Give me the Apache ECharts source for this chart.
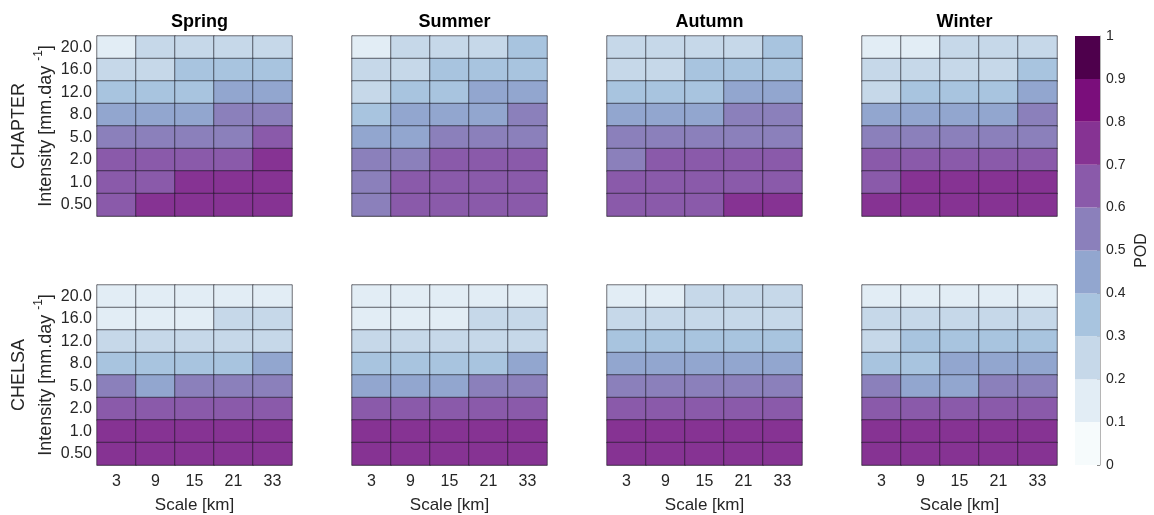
<!DOCTYPE html>
<html>
<head>
<meta charset="utf-8">
<script src="https://cdn.jsdelivr.net/npm/echarts@6/dist/echarts.min.js"></script>
<style>
  html, body { margin: 0; padding: 0; background: #ffffff; }
  #chart { width: 1154px; height: 515px; }
</style>
</head>
<body>
<div id="chart"></div>
<script>
// Categories
const scales = ['3', '9', '15', '21', '33'];
// Intensity thresholds, bottom to top
const intensities = ['0.50', '1.0', '2.0', '5.0', '8.0', '12.0', '16.0', '20.0'];
const seasons = ['Spring', 'Summer', 'Autumn', 'Winter'];
const products = ['CHAPTER', 'CHELSA'];

// POD colour levels (0 to 1 in steps of 0.1)
const levelEdges = [0, 0.1, 0.2, 0.3, 0.4, 0.5, 0.6, 0.7, 0.8, 0.9, 1];
const levelColors = ['#f6fbfc', '#e2edf5', '#c6d8e9', '#a8c4df', '#92a6cf',
                     '#8b80bb', '#8a5aaa', '#863393', '#7a0e7b', '#4e004c'];

// POD values, rows listed from 20.0 (top) down to 0.50 (bottom), columns by scale
const chapterSpring = [
  [0.15, 0.25, 0.25, 0.25, 0.25],
  [0.25, 0.25, 0.35, 0.35, 0.35],
  [0.35, 0.35, 0.35, 0.45, 0.45],
  [0.45, 0.45, 0.45, 0.55, 0.55],
  [0.55, 0.55, 0.55, 0.55, 0.65],
  [0.65, 0.65, 0.65, 0.65, 0.75],
  [0.65, 0.65, 0.75, 0.75, 0.75],
  [0.65, 0.75, 0.75, 0.75, 0.75]
];
const chapterSummer = [
  [0.15, 0.25, 0.25, 0.25, 0.35],
  [0.25, 0.25, 0.35, 0.35, 0.35],
  [0.25, 0.35, 0.35, 0.45, 0.45],
  [0.35, 0.45, 0.45, 0.45, 0.55],
  [0.45, 0.45, 0.55, 0.55, 0.55],
  [0.55, 0.55, 0.65, 0.65, 0.65],
  [0.55, 0.65, 0.65, 0.65, 0.65],
  [0.55, 0.65, 0.65, 0.65, 0.65]
];
const chapterAutumn = [
  [0.25, 0.25, 0.25, 0.25, 0.35],
  [0.25, 0.25, 0.35, 0.35, 0.35],
  [0.35, 0.35, 0.35, 0.45, 0.45],
  [0.45, 0.45, 0.45, 0.55, 0.55],
  [0.55, 0.55, 0.55, 0.55, 0.55],
  [0.55, 0.65, 0.65, 0.65, 0.65],
  [0.65, 0.65, 0.65, 0.65, 0.65],
  [0.65, 0.65, 0.65, 0.75, 0.75]
];
const chapterWinter = [
  [0.15, 0.15, 0.25, 0.25, 0.25],
  [0.25, 0.25, 0.25, 0.25, 0.35],
  [0.25, 0.35, 0.35, 0.35, 0.45],
  [0.45, 0.45, 0.45, 0.45, 0.55],
  [0.55, 0.55, 0.55, 0.55, 0.55],
  [0.65, 0.65, 0.65, 0.65, 0.65],
  [0.65, 0.75, 0.75, 0.75, 0.75],
  [0.75, 0.75, 0.75, 0.75, 0.75]
];
const chelsaSpring = [
  [0.15, 0.15, 0.15, 0.15, 0.15],
  [0.15, 0.15, 0.15, 0.25, 0.25],
  [0.25, 0.25, 0.25, 0.25, 0.25],
  [0.35, 0.35, 0.35, 0.35, 0.45],
  [0.55, 0.45, 0.55, 0.55, 0.55],
  [0.65, 0.65, 0.65, 0.65, 0.65],
  [0.75, 0.75, 0.75, 0.75, 0.75],
  [0.75, 0.75, 0.75, 0.75, 0.75]
];
const chelsaSummer = [
  [0.15, 0.15, 0.15, 0.15, 0.15],
  [0.15, 0.15, 0.15, 0.25, 0.25],
  [0.25, 0.25, 0.25, 0.25, 0.25],
  [0.35, 0.35, 0.35, 0.35, 0.45],
  [0.45, 0.45, 0.45, 0.55, 0.55],
  [0.65, 0.65, 0.65, 0.65, 0.65],
  [0.75, 0.75, 0.75, 0.75, 0.75],
  [0.75, 0.75, 0.75, 0.75, 0.75]
];
const chelsaAutumn = [
  [0.15, 0.15, 0.25, 0.25, 0.25],
  [0.25, 0.25, 0.25, 0.25, 0.25],
  [0.35, 0.35, 0.35, 0.35, 0.35],
  [0.45, 0.45, 0.45, 0.45, 0.45],
  [0.55, 0.55, 0.55, 0.55, 0.55],
  [0.65, 0.65, 0.65, 0.65, 0.65],
  [0.75, 0.75, 0.75, 0.75, 0.75],
  [0.75, 0.75, 0.75, 0.75, 0.75]
];
const chelsaWinter = [
  [0.15, 0.15, 0.15, 0.15, 0.15],
  [0.25, 0.25, 0.25, 0.25, 0.25],
  [0.25, 0.35, 0.35, 0.35, 0.35],
  [0.35, 0.35, 0.45, 0.45, 0.45],
  [0.55, 0.45, 0.45, 0.55, 0.55],
  [0.65, 0.65, 0.65, 0.65, 0.65],
  [0.75, 0.75, 0.75, 0.75, 0.75],
  [0.75, 0.75, 0.75, 0.75, 0.75]
];

const panels = [
  [chapterSpring, chapterSummer, chapterAutumn, chapterWinter],
  [chelsaSpring, chelsaSummer, chelsaAutumn, chelsaWinter]
];

// Layout of the panel grid (pixels)
const panelLefts = [97, 352, 607, 862];
const panelTops = [36, 285];
const panelW = 195;
const panelH = 180;
const textColor = '#262626';
const fontFamily = '"Liberation Sans", Arial, Helvetica, sans-serif';

// Convert a panel's rows (top to bottom) into heatmap triples
function toCells(rows) {
  const out = [];
  const n = rows.length;
  rows.forEach((row, r) => {
    row.forEach((v, c) => {
      out.push([c, n - 1 - r, v]);
    });
  });
  return out;
}

const grids = [], xAxes = [], yAxes = [], series = [], titles = [];

products.forEach((prod, pr) => {
  seasons.forEach((season, sc) => {
    const idx = grids.length;
    grids.push({
      left: panelLefts[sc], top: panelTops[pr],
      width: panelW, height: panelH
    });
    xAxes.push({
      type: 'category', gridIndex: idx, data: scales,
      axisLine: { show: true, lineStyle: { color: '#b5b5b5', width: 1 } },
      axisTick: { show: false },
      axisLabel: { show: pr === 1, color: textColor, fontSize: 16, margin: 9, fontFamily },
      name: pr === 1 ? 'Scale [km]' : '',
      nameLocation: 'middle', nameGap: 32,
      nameTextStyle: { color: textColor, fontSize: 17, fontFamily },
      splitLine: { show: false }
    });
    yAxes.push({
      type: 'category', gridIndex: idx, data: intensities,
      axisLine: { show: true, lineStyle: { color: '#b5b5b5', width: 1 } },
      axisTick: { show: false },
      axisLabel: { show: sc === 0, color: textColor, fontSize: 16, margin: 5, fontFamily },
      name: sc === 0 ? '{a|' + prod + '}\n{a|Intensity [mm.day }{s|-1}{a|]}' : '',
      nameLocation: 'middle', nameRotate: 90, nameGap: 37,
      nameTextStyle: {
        color: textColor, fontFamily,
        rich: {
          a: { fontSize: 18, color: textColor, fontFamily, lineHeight: 27 },
          s: { fontSize: 12, color: textColor, fontFamily, verticalAlign: 'top', lineHeight: 27, padding: [0, 0, 8, 0] }
        }
      },
      splitLine: { show: false }
    });
    series.push({
      type: 'heatmap', xAxisIndex: idx, yAxisIndex: idx,
      data: toCells(panels[pr][sc]),
      itemStyle: { borderColor: 'rgba(20,20,30,0.75)', borderWidth: 0.8 },
      emphasis: { disabled: true },
      progressive: 0
    });
    if (pr === 0) {
      titles.push({
        text: season,
        left: panelLefts[sc] + panelW / 2, top: 8,
        textAlign: 'center',
        textStyle: { fontSize: 18, fontWeight: 'bold', color: '#000000', fontFamily }
      });
    }
  });
});

// Colour bar: one stacked bar per level on a 0..1 value axis
const cbIdx = grids.length;
grids.push({ left: 1075, top: 36, width: 25, height: 429 });
xAxes.push({
  type: 'category', gridIndex: cbIdx, data: ['POD'],
  axisLine: { show: false }, axisTick: { show: false }, axisLabel: { show: false }
});
yAxes.push({
  type: 'value', gridIndex: cbIdx, min: 0, max: 1, interval: 0.1,
  position: 'right',
  axisLine: { show: true, lineStyle: { color: '#b5b5b5' } },
  axisTick: { show: true, inside: true, length: 3, lineStyle: { color: '#8a8a8a' } },
  axisLabel: { color: textColor, fontSize: 14, margin: 6, fontFamily },
  splitLine: { show: false },
  name: 'POD', nameLocation: 'middle', nameRotate: 90, nameGap: 34,
  nameTextStyle: { color: textColor, fontSize: 16, fontFamily }
});
levelColors.forEach((col, i) => {
  series.push({
    type: 'bar', xAxisIndex: cbIdx, yAxisIndex: cbIdx, stack: 'colorbar',
    barWidth: '100%', silent: true,
    data: [levelEdges[i + 1] - levelEdges[i]],
    itemStyle: { color: col }
  });
});

const chart = echarts.init(document.getElementById('chart'), null, { renderer: 'canvas' });
chart.setOption({
  animation: false,
  backgroundColor: '#ffffff',
  title: titles,
  grid: grids,
  xAxis: xAxes,
  yAxis: yAxes,
  visualMap: {
    type: 'piecewise', show: false,
    seriesIndex: [0, 1, 2, 3, 4, 5, 6, 7],
    pieces: levelColors.map((c, i) => ({ gte: levelEdges[i], lt: levelEdges[i + 1], color: c }))
  },
  series
});
</script>
</body>
</html>
